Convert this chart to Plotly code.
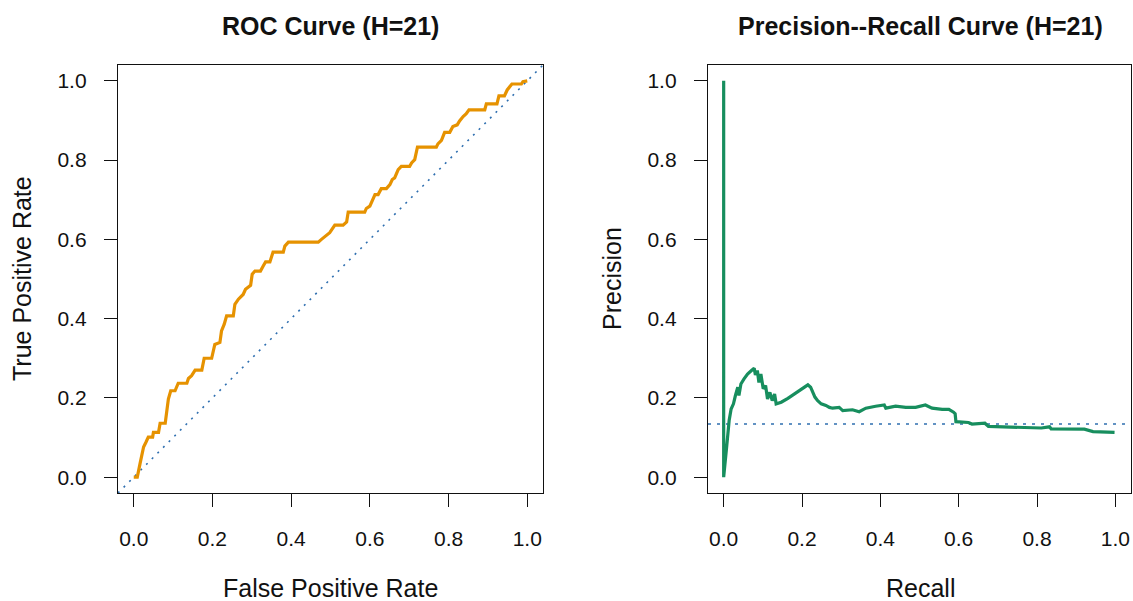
import plotly.graph_objects as go

# ---------------- data ----------------
roc_fpr = [0.000, 0.009, 0.016, 0.025, 0.031, 0.037, 0.048, 0.050, 0.063, 0.067,
           0.080, 0.084, 0.088, 0.094, 0.105, 0.113, 0.135, 0.139, 0.147, 0.156,
           0.173, 0.179, 0.198, 0.206, 0.219, 0.223, 0.230, 0.236, 0.253, 0.257,
           0.266, 0.278, 0.284, 0.297, 0.301, 0.308, 0.322, 0.329, 0.335, 0.346,
           0.354, 0.380, 0.384, 0.393, 0.469, 0.477, 0.490, 0.498, 0.511, 0.532,
           0.541, 0.545, 0.587, 0.591, 0.600, 0.604, 0.613, 0.621, 0.629, 0.642,
           0.651, 0.657, 0.663, 0.672, 0.680, 0.701, 0.706, 0.714, 0.721, 0.769,
           0.773, 0.782, 0.790, 0.803, 0.811, 0.822, 0.828, 0.837, 0.845, 0.852,
           0.892, 0.896, 0.923, 0.928, 0.942, 0.949, 0.955, 0.961, 0.985, 0.989,
           1.000]
roc_tpr = [0.000, 0.000, 0.034, 0.076, 0.088, 0.101, 0.101, 0.113, 0.113, 0.136,
           0.136, 0.168, 0.197, 0.218, 0.218, 0.237, 0.237, 0.249, 0.256, 0.270,
           0.270, 0.300, 0.300, 0.335, 0.340, 0.369, 0.386, 0.407, 0.407, 0.436,
           0.449, 0.461, 0.474, 0.484, 0.512, 0.520, 0.520, 0.533, 0.543, 0.543,
           0.568, 0.568, 0.583, 0.593, 0.593, 0.600, 0.610, 0.617, 0.636, 0.636,
           0.644, 0.669, 0.669, 0.678, 0.684, 0.694, 0.713, 0.713, 0.728, 0.728,
           0.738, 0.751, 0.755, 0.776, 0.784, 0.784, 0.793, 0.801, 0.833, 0.833,
           0.841, 0.850, 0.870, 0.870, 0.885, 0.889, 0.899, 0.910, 0.917, 0.927,
           0.927, 0.942, 0.942, 0.962, 0.962, 0.977, 0.986, 0.992, 0.992, 0.998,
           1.000]

pr_recall = [0.000, 0.000, 0.008, 0.014, 0.019, 0.025, 0.030, 0.036, 0.039, 0.044,
             0.052, 0.061, 0.071, 0.078, 0.081, 0.086, 0.090, 0.095, 0.101, 0.107,
             0.112, 0.118, 0.124, 0.130, 0.134, 0.147, 0.164, 0.181, 0.198, 0.215,
             0.222, 0.228, 0.233, 0.240, 0.249, 0.261, 0.270, 0.278, 0.295, 0.304,
             0.329, 0.346, 0.363, 0.388, 0.410, 0.414, 0.439, 0.465, 0.490, 0.515,
             0.532, 0.558, 0.575, 0.587, 0.591, 0.593, 0.625, 0.634, 0.667, 0.676,
             0.735, 0.786, 0.811, 0.832, 0.836, 0.921, 0.930, 0.943, 0.998]
pr_precision = [1.000, 0.000, 0.080, 0.143, 0.172, 0.185, 0.206, 0.227, 0.206, 0.235,
                0.248, 0.260, 0.269, 0.275, 0.258, 0.269, 0.239, 0.260, 0.223, 0.231,
                0.197, 0.214, 0.193, 0.210, 0.185, 0.189, 0.199, 0.210, 0.222, 0.233,
                0.227, 0.214, 0.202, 0.193, 0.185, 0.181, 0.176, 0.174, 0.176, 0.168,
                0.170, 0.165, 0.174, 0.179, 0.182, 0.174, 0.179, 0.176, 0.176, 0.182,
                0.174, 0.171, 0.171, 0.164, 0.160, 0.140, 0.138, 0.134, 0.136, 0.128,
                0.126, 0.126, 0.124, 0.127, 0.122, 0.121, 0.119, 0.115, 0.113]

pr_baseline = 0.134
diag_x = [-0.04, 1.04]
diag_y = [-0.04, 1.04]

tick_vals = [0.0, 0.2, 0.4, 0.6, 0.8, 1.0]
tick_text = ["0.0", "0.2", "0.4", "0.6", "0.8", "1.0"]

roc_title = "ROC Curve (H=21)"
pr_title = "Precision--Recall Curve (H=21)"

# ---------------- figure ----------------
W, H = 1133, 601
ORANGE = "#E69200"
GREEN = "#178E5E"
BLUE = "#2F6FB0"
FONT = "Liberation Sans, Arial, Helvetica, sans-serif"

def px(X):
    return X / W

def py(Y):
    return 1 - Y / H

fig = go.Figure()
fig.add_trace(go.Scatter(x=diag_x, y=diag_y, mode="lines",
                         line=dict(color=BLUE, width=1.6, dash="2px,6px"),
                         xaxis="x", yaxis="y", hoverinfo="skip"))
fig.add_trace(go.Scatter(x=roc_fpr, y=roc_tpr, mode="lines",
                         line=dict(color=ORANGE, width=3.2),
                         xaxis="x", yaxis="y"))
fig.add_trace(go.Scatter(x=[-0.04, 1.04], y=[pr_baseline, pr_baseline], mode="lines",
                         line=dict(color=BLUE, width=1.6, dash="3px,6px"),
                         xaxis="x2", yaxis="y2", hoverinfo="skip"))
fig.add_trace(go.Scatter(x=pr_recall, y=pr_precision, mode="lines",
                         line=dict(color=GREEN, width=3.2),
                         xaxis="x2", yaxis="y2"))

ydom = [py(493), py(65)]
axis_common = dict(range=[-0.04, 1.04], tickvals=tick_vals, ticktext=tick_text,
                   ticks="outside", ticklen=13, tickwidth=1.4, tickcolor="#111",
                   showline=True, linecolor="#111", linewidth=1.4, mirror=True,
                   showgrid=False, zeroline=False,
                   tickfont=dict(family=FONT, size=21, color="#111"))

fig.update_layout(
    width=W, height=H,
    margin=dict(l=0, r=0, t=0, b=0),
    paper_bgcolor="white", plot_bgcolor="white",
    showlegend=False,
    xaxis=dict(domain=[px(118), px(543)], anchor="y", ticklabelstandoff=14, **axis_common),
    yaxis=dict(domain=ydom, anchor="x", ticklabelstandoff=13, **axis_common),
    xaxis2=dict(domain=[px(708), px(1131)], anchor="y2", ticklabelstandoff=14, **axis_common),
    yaxis2=dict(domain=ydom, anchor="x2", ticklabelstandoff=13, **axis_common),
)

def ann(text, x, y, size, bold=False, angle=0):
    fig.add_annotation(text=f"<b>{text}</b>" if bold else text,
                       x=px(x), y=py(y), xref="paper", yref="paper",
                       xanchor="center", yanchor="middle", showarrow=False,
                       textangle=angle,
                       font=dict(family=FONT, size=size, color="#111"))

ann(roc_title, 330.5, 26, 25, bold=True)
ann(pr_title, 920, 26, 25, bold=True)
ann("False Positive Rate", 330.5, 588, 25)
ann("Recall", 920, 588, 25)
ann("True Positive Rate", 22, 279, 25, angle=-90)
ann("Precision", 612, 279, 25, angle=-90)

fig.write_html("out.html",
               config={"displayModeBar": False},
               post_script="document.body.style.margin='0';"
                           "document.body.style.overflow='hidden';")
